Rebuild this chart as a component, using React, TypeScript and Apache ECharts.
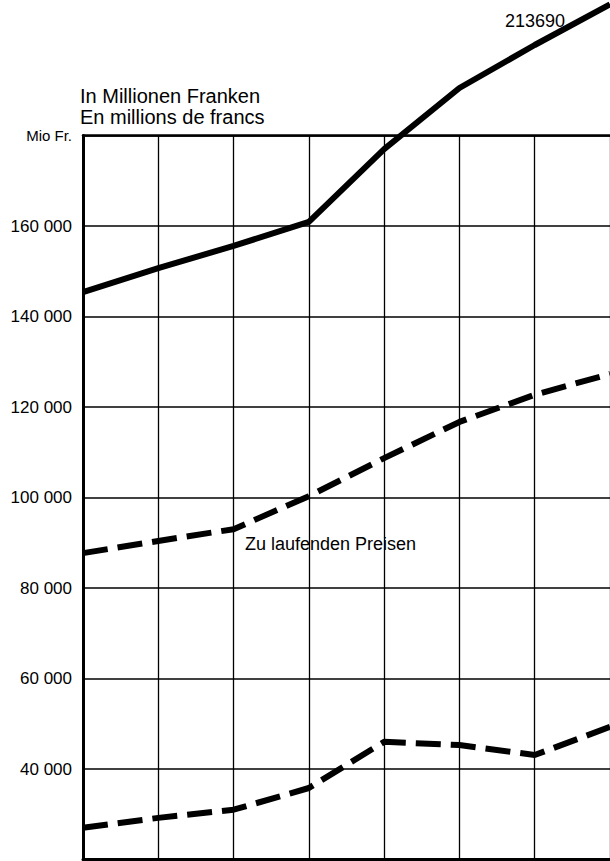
import React, { useEffect, useRef } from "react";
import * as echarts from "echarts";

const categories = ["1", "2", "3", "4", "5", "6", "7", "8"];
const solidSeries = [145400, 150700, 155600, 160900, 177000, 190500, 200000, 209000];
const currentPrices = [87700, 90400, 93000, 100300, 108700, 116700, 122700, 127300];
const lowerSeries = [27000, 29200, 31000, 35800, 46000, 45300, 43100, 49300];
const yTicks: Record<number, string> = {
  180000: "Mio Fr.",
  160000: "160 000",
  140000: "140 000",
  120000: "120 000",
  100000: "100 000",
  80000: "80 000",
  60000: "60 000",
  40000: "40 000",
  20000: "",
};
const titleLines = ["In Millionen Franken", "En millions de francs"];
const seriesLabel = "Zu laufenden Preisen";
const endValueLabel = "213690";

const FONT = "'Liberation Sans', Arial, sans-serif";

export default function App() {
  const ref = useRef<HTMLDivElement>(null);
  useEffect(() => {
    if (!ref.current) return;
    const chart = echarts.init(ref.current, undefined, { renderer: "svg" });
    const lineBase = {
      type: "line" as const,
      symbol: "none",
      clip: false,
      silent: true,
    };
    chart.setOption({
      animation: false,
      backgroundColor: "#ffffff",
      grid: { left: 83, top: 135.5, width: 529, height: 724 },
      xAxis: [
        {
          type: "category",
          data: categories,
          boundaryGap: false,
          axisLine: { show: true, lineStyle: { color: "#000", width: 3 } },
          axisTick: { show: false },
          axisLabel: { show: false },
          splitLine: { show: true, lineStyle: { color: "#000", width: 1.3 } },
        },
        {
          type: "category",
          data: categories,
          position: "top",
          boundaryGap: false,
          axisLine: { show: true, lineStyle: { color: "#000", width: 2.5 } },
          axisTick: { show: false },
          axisLabel: { show: false },
          splitLine: { show: false },
        },
      ],
      yAxis: {
        type: "value",
        min: 20000,
        max: 180000,
        interval: 20000,
        axisLine: { show: true, lineStyle: { color: "#000", width: 3 } },
        axisTick: { show: false },
        splitLine: { show: true, lineStyle: { color: "#000", width: 1.6 } },
        axisLabel: {
          margin: 11,
          color: "#000",
          fontFamily: FONT,
          fontSize: 17,
          formatter: (v: number) => (v === 180000 ? "{s|" + yTicks[v] + "}" : yTicks[v] ?? ""),
          rich: { s: { fontSize: 15, fontFamily: FONT, color: "#000" } },
        },
      },
      graphic: [
        {
          type: "text",
          left: 80,
          top: 85,
          style: {
            text: titleLines.join("\n"),
            font: `20px ${FONT}`,
            lineHeight: 21,
            fill: "#000",
          },
        },
        {
          type: "text",
          left: 245,
          top: 535,
          style: { text: seriesLabel, font: `18px ${FONT}`, fill: "#000" },
        },
        {
          type: "text",
          right: 45,
          top: 12,
          style: { text: endValueLabel, font: `18px ${FONT}`, fill: "#000" },
        },
      ],
      series: [
        {
          ...lineBase,
          data: solidSeries,
          lineStyle: { color: "#000", width: 6, type: "solid" },
        },
        {
          ...lineBase,
          data: currentPrices,
          lineStyle: { color: "#000", width: 6, type: [25, 10] },
        },
        {
          ...lineBase,
          data: lowerSeries,
          lineStyle: { color: "#000", width: 6, type: [25, 10] },
        },
      ],
    });
    return () => chart.dispose();
  }, []);
  return (
    <div
      ref={ref}
      style={{ position: "fixed", left: 0, top: 0, width: 610, height: 861 }}
    />
  );
}
